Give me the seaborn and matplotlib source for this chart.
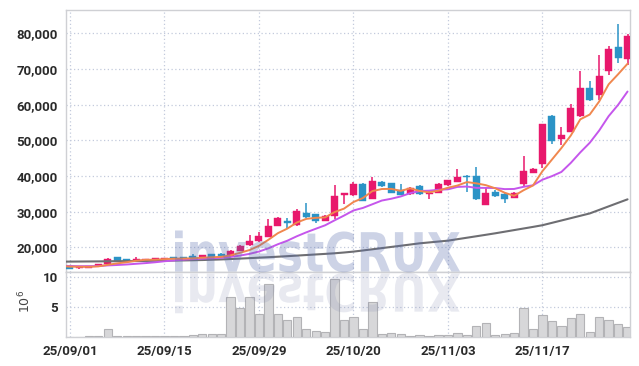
import numpy as np
import pandas as pd
import matplotlib
matplotlib.use("Agg")
import matplotlib.pyplot as plt
import seaborn as sns
from matplotlib.textpath import TextPath
from matplotlib.patches import PathPatch
from matplotlib.transforms import Affine2D
from matplotlib.font_manager import FontProperties
from matplotlib.ticker import FuncFormatter

# ---------------- data ----------------
date_labels = ["25/09/01", "25/09/15", "25/09/29", "25/10/20", "25/11/03", "25/11/17"]
date_positions = [0, 10, 20, 30, 40, 50]

opens = [14760, 14200, 14200, 14650, 15200, 17250, 16750, 16170, 16450, 16550,
         16800, 17100, 17150, 17650, 17050, 18000, 18000, 17700, 18970, 20650,
         21700, 23000, 26000, 27460, 26270, 29520, 29240, 27460, 28650, 34550,
         34670, 37750, 33640, 38400, 37940, 36200, 34860, 37110, 34860, 35330,
         37470, 38300, 39900, 40050, 32000, 35600, 34950, 33950, 37800, 40930,
         43400, 56820, 50450, 52410, 56820, 64670, 62770, 69480, 76220, 72790]
closes = [14000, 14570, 14750, 15350, 16800, 16050, 16170, 16800, 16700, 16900,
          16850, 16900, 16900, 17000, 17850, 17400, 17500, 19050, 20500, 21750,
          23300, 26000, 28300, 26900, 30250, 28400, 27500, 28870, 34390, 35100,
          37660, 33080, 38600, 37280, 35330, 34800, 36720, 34860, 35330, 37750,
          38870, 39800, 39700, 33550, 35240, 34450, 33600, 35330, 41400, 41960,
          54580, 49700, 51490, 59030, 64600, 61300, 68030, 75510, 73130, 79330]
highs = [14800, 14650, 14800, 15400, 16900, 17300, 16800, 17300, 16800, 17000,
         16950, 17200, 17200, 18130, 17950, 18100, 18500, 19150, 20700, 23450,
         24200, 27850, 28500, 28130, 30830, 32330, 29400, 29100, 37400, 35300,
         38300, 37900, 39800, 38600, 38000, 37660, 36900, 37600, 35800, 37900,
         39000, 41870, 40300, 42600, 36530, 36000, 35300, 35500, 45690, 42300,
         54700, 57000, 53650, 60150, 69300, 66630, 73920, 76440, 82600, 79800]
lows = [13950, 14000, 14150, 14600, 15100, 16000, 16100, 16100, 16400, 16500,
        16700, 16800, 16850, 16950, 17000, 17300, 17400, 17600, 18900, 20500,
        21600, 22900, 25900, 25330, 26100, 28200, 26750, 27300, 27850, 32150,
        34500, 32900, 33500, 36900, 35200, 34600, 34700, 34700, 33450, 35200,
        37300, 38200, 35600, 33400, 31900, 34000, 32520, 33800, 37200, 40800,
        42150, 48970, 48690, 52200, 56500, 61100, 61300, 68310, 71760, 71110]
# closes of the 10 sessions before the window (for the moving averages)
prior_closes = [14900, 14950, 14800, 14900, 15050, 14850, 14700, 14900, 14750, 14600]
# long moving average (grey), sessions -1 .. 59
ma_long = [15980, 16000, 16020, 16040, 16060, 16090, 16110, 16140, 16160, 16190, 16220,
           16250, 16290, 16330, 16380, 16440, 16520, 16610, 16720, 16840, 16970,
           17100, 17230, 17370, 17520, 17680, 17840, 18000, 18160, 18330, 18550,
           18800, 19120, 19450, 19780, 20110, 20440, 20780, 21120, 21370, 21620,
           21870, 22280, 22690, 23100, 23510, 23930, 24380, 24830, 25280, 25730,
           26200, 26860, 27520, 28180, 28840, 29500, 30490, 31480, 32470, 33450]
volume = [0.0, 0.05, 0.1, 0.25, 1.4, 0.25, 0.25, 0.25, 0.1, 0.25,
          0.1, 0.25, 0.25, 0.4, 0.55, 0.55, 0.55, 6.6, 4.8, 6.6,
          3.8, 8.8, 3.8, 2.8, 3.3, 1.3, 0.95, 0.8, 9.6, 2.9,
          3.3, 1.3, 5.8, 0.45, 0.6, 0.45, 0.15, 0.3, 0.15, 0.3,
          0.3, 0.6, 0.3, 1.8, 2.3, 0.3, 0.45, 0.6, 4.9, 1.4,
          3.6, 2.6, 1.9, 3.1, 3.8, 0.9, 3.4, 2.8, 2.1, 1.6]

# ---------------- styling ----------------
UP = "#e8186c"
DOWN = "#2b93c6"
ORANGE = "#f0874e"
PURPLE = "#c556ec"
GREY_MA = "#6e6e72"
GRID = "#c3cadc"
SPINE = "#cfd0d4"
TXT = "#2a2a2a"

sns.set_theme(style="white")
plt.rcParams["font.family"] = ["Roboto", "DejaVu Sans"]

n = len(closes)
idx = np.arange(n)
df = pd.DataFrame({"i": idx, "open": opens, "close": closes, "high": highs,
                   "low": lows, "vol": volume})

all_close = pd.Series(prior_closes + closes, index=np.arange(-len(prior_closes), n))
ma5 = all_close.rolling(5).mean().dropna()
ma10 = all_close.rolling(10).mean().dropna()
ma5 = ma5[ma5.index >= -1]
ma10 = ma10[ma10.index >= -1]
ma_df = pd.DataFrame({"i": np.arange(-1, n), "long": ma_long})

fig = plt.figure(figsize=(6.39, 3.66), dpi=100)
ax1 = fig.add_axes([0.1033, 0.2568, 0.8826, 0.7159])
ax2 = fig.add_axes([0.1033, 0.0792, 0.8826, 0.1776], sharex=ax1)

# ---------------- price panel ----------------
up = df["close"] >= df["open"]
colors = np.where(up, UP, DOWN)
ax1.vlines(df["i"], df["low"], df["high"], colors=colors, linewidth=1.1, zorder=3)
body_bottom = np.minimum(df["open"], df["close"])
body_h = np.maximum(np.abs(df["close"] - df["open"]), 250)
ax1.bar(df["i"], body_h, bottom=body_bottom, width=0.74, color=colors,
        edgecolor=colors, linewidth=0.3, zorder=4)

sns.lineplot(x=ma_df["i"], y=ma_df["long"], ax=ax1, color=GREY_MA, linewidth=1.5, zorder=5)
sns.lineplot(x=ma10.index.values, y=ma10.values, ax=ax1, color=PURPLE, linewidth=1.4, zorder=5)
sns.lineplot(x=ma5.index.values, y=ma5.values, ax=ax1, color=ORANGE, linewidth=1.4, zorder=6)

ax1.set_xlim(-0.42, 59.26)
ax1.set_ylim(13080, 86530)
ax1.set_yticks([20000, 30000, 40000, 50000, 60000, 70000, 80000])
ax1.yaxis.set_major_formatter(FuncFormatter(lambda v, p: f"{int(v):,}"))
ax1.set_xlabel("")
ax1.set_ylabel("")

# ---------------- volume panel ----------------
sns.barplot(x=df["i"], y=df["vol"], ax=ax2, native_scale=True, width=0.88,
            color="#d7d7d9", edgecolor="#b3b3b6", linewidth=0.8, saturation=1,
            errorbar=None, zorder=3)
ax2.set_ylim(0, 10.83)
ax2.set_yticks([5, 10])
ax2.set_xlim(-0.42, 59.26)
ax2.set_xticks(date_positions)
ax2.set_xticklabels(date_labels)
ax2.set_xlabel("")
ax2.set_ylabel(r"$10^6$", fontsize=9, color="#444444", rotation=90)
ax2.yaxis.set_label_coords(-0.058, 0.55)

for ax in (ax1, ax2):
    ax.grid(True, which="major", axis="both", color=GRID, linestyle=(0, (1, 2)),
            linewidth=0.9, zorder=0)
    ax.set_axisbelow(True)
    for s in ax.spines.values():
        s.set_color(SPINE)
        s.set_linewidth(1.0)
    ax.tick_params(axis="both", length=0, colors=TXT, labelsize=9.5, pad=6)
    for lab in ax.get_yticklabels() + ax.get_xticklabels():
        lab.set_fontweight("bold")
        lab.set_color(TXT)
ax1.set_xticks(date_positions)
ax1.tick_params(axis="x", labelbottom=False)
ax1.spines["bottom"].set_color("#c4c4c8")

# ---------------- watermark ----------------
fp = FontProperties(family="DejaVu Sans", weight="bold")
tp = TextPath((0, 0), "investCRUX", size=100, prop=fp)
bb = tp.get_extents()
H = 366
x0, x1 = 175, 460
base_main, top_main = 271.5, 230.5
sx = (x1 - x0) / bb.width
sy = (base_main - top_main) / bb.y1
t_main = Affine2D().translate(-bb.x0, 0).scale(sx, sy).translate(x0, H - base_main)
fig.add_artist(PathPatch(tp, transform=t_main, facecolor="#5a6eae", edgecolor="none",
                         alpha=0.3, zorder=10))
base_ref = 273.5
t_ref = Affine2D().translate(-bb.x0, 0).scale(sx, -sy * 0.97).translate(x0, H - base_ref)
fig.add_artist(PathPatch(tp, transform=t_ref, facecolor="#7a82aa", edgecolor="none",
                         alpha=0.17, zorder=10))

fig.savefig("out.png", dpi=100)
